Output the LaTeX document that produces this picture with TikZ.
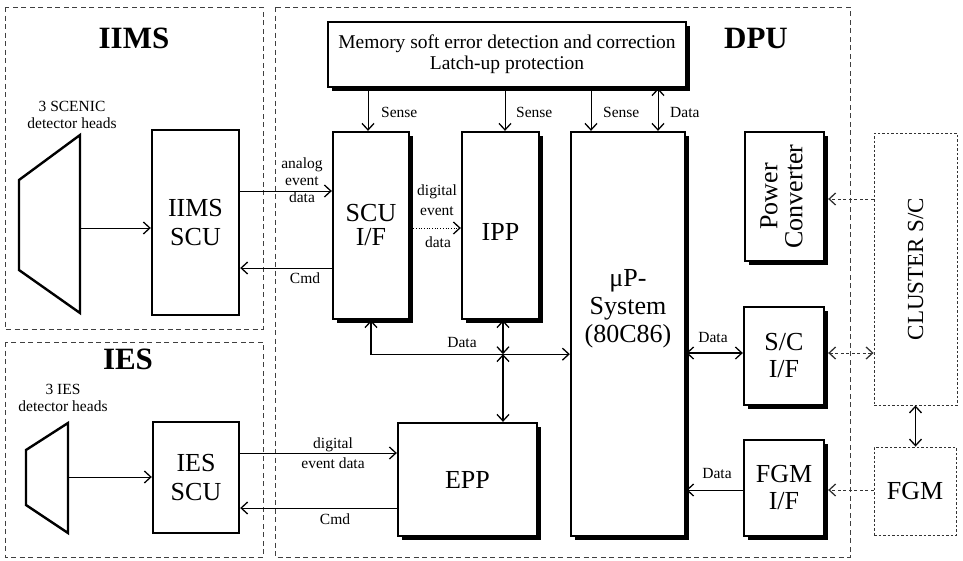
\documentclass[tikz,border=0pt]{standalone}
\usepackage{fontspec}
\setmainfont{Liberation Serif}
\usepackage{graphicx}
\usetikzlibrary{arrows.meta,shadows,calc}
\begin{document}
\begin{tikzpicture}[x=1pt,y=-1pt,
  >={Straight Barb[length=6.5pt,width=12pt,line width=1.3pt]},
  frame/.style={draw=black!75, line width=0.8pt, dash pattern=on 5pt off 3.5pt},
  fine/.style={draw=black!80, line width=0.9pt, dash pattern=on 2.5pt off 2pt},
  sbox/.style={draw, line width=2.3pt, fill=white, inner sep=0pt, align=center,
    font=\fontsize{26}{27}\selectfont,
    drop shadow={shadow xshift=3.5pt, shadow yshift=-3.5pt, fill=black, opacity=1}},
  pbox/.style={draw, line width=2.4pt, inner sep=0pt, align=center, font=\fontsize{26}{29}\selectfont},
  conn/.style={line width=0.8pt},
  bus/.style={line width=1.1pt},
  ext/.style={line width=0.8pt, draw=black!80, dash pattern=on 3pt off 2.5pt},
  lab/.style={font=\fontsize{15.5}{17}\selectfont, inner sep=0pt, align=center},
  title/.style={font=\fontsize{31}{31}\selectfont\bfseries, inner sep=0pt},
  trap/.style={line width=2.4pt, line join=miter}
]
\useasboundingbox (0,0) rectangle (963,560);

% dashed frames
\draw[frame] (5,7) rectangle (263,329);
\draw[frame] (5,342) rectangle (263,557);
\draw[frame] (275,7) rectangle (850,557);

\node[title] (tIIMS) at (134,38) {IIMS};
\node[title] (tIES) at (128,359) {IES};
\node[title] (tDPU) at (756,38) {DPU};

% IIMS part
\coordinate (A1) at (19,180); \coordinate (A2) at (80,135);
\coordinate (A3) at (80,313); \coordinate (A4) at (19,270);
\draw[trap] (A1) -- (A2) -- (A3) -- (A4) -- cycle;
\node[lab] (scenic) at (72,115) {3 SCENIC\\detector heads};
\node[pbox, minimum width=87pt, minimum height=185pt] (iimsscu) at (195.5,222.5) {IIMS\\SCU};

% IES part
\coordinate (B1) at (26,450); \coordinate (B2) at (68,423);
\coordinate (B3) at (68,533); \coordinate (B4) at (26,505);
\draw[trap] (B1) -- (B2) -- (B3) -- (B4) -- cycle;
\node[lab] (iesdet) at (63,398) {3 IES\\detector heads};
\node[pbox, minimum width=86pt, minimum height=111pt] (iesscu) at (196,477.5) {IES\\SCU};

% DPU boxes
\node[sbox, minimum width=358pt, minimum height=65pt, font=\fontsize{19.5}{21}\selectfont] (mem) at (507,54.5)
  {Memory soft error detection and correction\\Latch-up protection};
\node[sbox, minimum width=76pt, minimum height=187pt, font=\fontsize{26}{24}\selectfont] (scuif) at (371,225.5) {SCU\\I/F};
\node[sbox, minimum width=77pt, minimum height=187pt] (ipp) at (500.5,225.5) {};
\node[font=\fontsize{26}{27}\selectfont, inner sep=0pt] (ippt) at (500.5,232) {IPP};
\node[sbox, minimum width=114pt, minimum height=404pt] (mup) at (628,334) {};
\node[font=\fontsize{26}{28}\selectfont, align=center, inner sep=0pt] (mupt) at (628,309) {μP-\\System\\(80C86)};
\node[sbox, minimum width=139pt, minimum height=113pt] (epp) at (467.5,479.5) {EPP};
\node[sbox, minimum width=79pt, minimum height=129pt] (pc) at (784.5,196.5)
  {\rotatebox{90}{\begin{tabular}{@{}c@{}}Power\\[-2pt]Converter\end{tabular}}};
\node[sbox, minimum width=80pt, minimum height=98pt] (scif) at (784,356) {S/C\\I/F};
\node[sbox, minimum width=80pt, minimum height=96pt] (fgmif) at (784,488) {FGM\\I/F};

% external
\node[fine, minimum width=83pt, minimum height=272pt, inner sep=0pt] (cluster) at (915.5,269)
  {\rotatebox{90}{\fontsize{23}{23}\selectfont CLUSTER S/C}};
\node[fine, minimum width=82pt, minimum height=88pt, inner sep=0pt, font=\fontsize{26}{27}\selectfont] (fgm) at (915,491) {FGM};

% IIMS connectors
\coordinate (t1) at (80,228);
\draw[conn,->] (t1) -- (t1 -| iimsscu.west);
\coordinate (a1) at ([yshift=31.5pt]iimsscu.east);
\draw[conn,->] (a1) -- (a1 -| scuif.west);
\node[lab] (analog) at (302,180) {analog\\event\\data};
\coordinate (c1) at ([yshift=-45.5pt]iimsscu.east);
\draw[conn,->] (c1 -| scuif.west) -- (c1);
\node[lab] (cmd1) at (305,278) {Cmd};

% sense / data from memory
\draw[conn,->] ([xshift=-3pt]mem.south -| scuif.north) -- ([xshift=-3pt]scuif.north);
\node[lab, anchor=west] (s1) at (381,112) {Sense};
\draw[conn,->] ([xshift=4.5pt]mem.south -| ipp.north) -- ([xshift=4.5pt]ipp.north);
\node[lab, anchor=west] (s2) at (516,112) {Sense};
\draw[conn,->] ([xshift=-37pt]mem.south -| mup.north) -- ([xshift=-37pt]mup.north);
\node[lab, anchor=west] (s3) at (603,112) {Sense};
\draw[conn,<->] ([xshift=30pt]mem.south -| mup.north) -- ([xshift=30pt]mup.north);
\node[lab, anchor=west] (d0) at (670,112) {Data};

% SCU I/F -> IPP
\coordinate (g1) at ([yshift=-2.5pt]scuif.east);
\draw[line width=0.7pt, dotted, ->] ([xshift=3pt]g1) -- (g1 -| ipp.west);
\node[lab] (dig1) at (437,192) {digital};
\node[lab] (ev1) at (437,211) {event};
\node[lab] (da1) at (438,242) {data};

% data bus
\coordinate (busL) at ([yshift=-34pt]scuif.south);
\coordinate (J) at ([xshift=2.5pt]busL -| ipp.south);
\draw[bus,<->] (scuif.south) -- (busL) -- (busL -| mup.west);
\draw[bus,<->] (J |- ipp.south) -- (J);
\draw[bus,<->] (J) -- (J |- epp.north);
\node[lab] (busd) at (462,342) {Data};

% IES connectors
\coordinate (t2) at (68,477);
\draw[conn,->] (t2) -- (t2 -| iesscu.west);
\coordinate (e1) at ([yshift=24.5pt]iesscu.east);
\draw[conn,->] (e1) -- (e1 -| epp.west);
\node[lab] (dig2) at (333,445) {digital};
\node[lab] (ev2) at (333,463) {event data};
\coordinate (e2) at ([yshift=-30.5pt]iesscu.east);
\draw[conn,->] (e2 -| epp.west) -- (e2);
\node[lab] (cmd2) at (335,519) {Cmd};

% right side
\coordinate (r1) at ([yshift=3pt]scif.west);
\draw[bus,<->] (r1 -| mup.east) -- (r1);
\node[lab] (d1) at (713,337) {Data};
\coordinate (r2) at ([yshift=3pt]scif.east);
\draw[ext,<->] ([xshift=3pt]r2) -- (r2 -| cluster.west);
\coordinate (p1) at ([yshift=-2.5pt]pc.east);
\draw[ext,->] (p1 -| cluster.west) -- ([xshift=3pt]p1);
\draw[bus,<->] (cluster.south) -- (cluster.south |- fgm.north);
\coordinate (f1) at ([yshift=-2pt]fgmif.east);
\draw[ext,->] (f1 -| fgm.west) -- ([xshift=3pt]f1);
\coordinate (f2) at ([yshift=-2pt]fgmif.west);
\draw[conn,->] (f2) -- (f2 -| mup.east);
\node[lab] (d2) at (717,473) {Data};
\end{tikzpicture}
\end{document}
